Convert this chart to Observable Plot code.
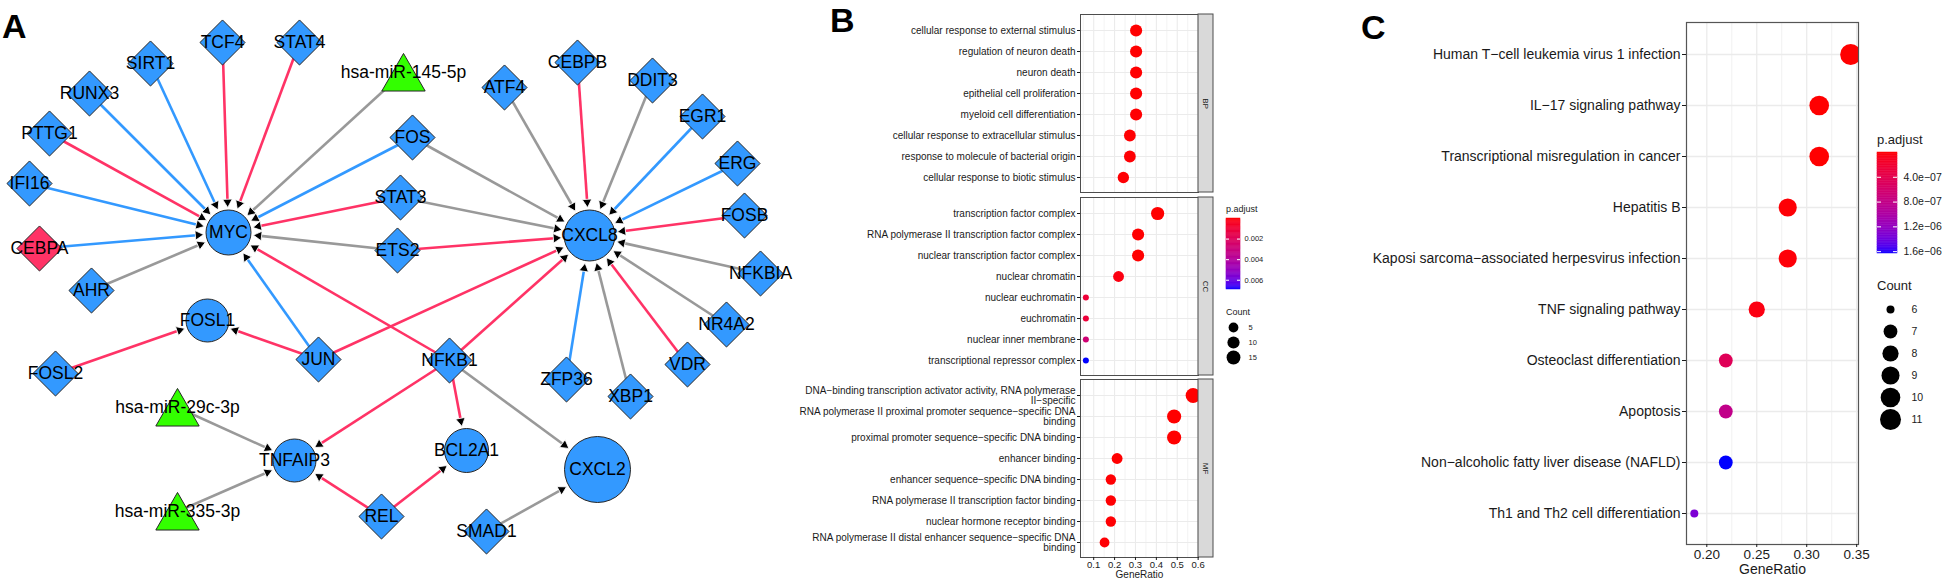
<!DOCTYPE html>
<html><head><meta charset="utf-8">
<script src="https://cdn.jsdelivr.net/npm/d3@7"></script>
<script src="https://cdn.jsdelivr.net/npm/@observablehq/plot@0.6"></script>
<style>
html,body{margin:0;padding:0;background:#fff;}
#root{position:relative;width:1946px;height:583px;overflow:hidden;font-family:'Liberation Sans',Arial,sans-serif;}
.abs{position:absolute;}
.letter{position:absolute;font:bold 34px/1 'Liberation Sans',Arial,sans-serif;color:#000;}
.lt{position:absolute;white-space:nowrap;color:#1a1a1a;font-family:'Liberation Sans',Arial,sans-serif;}
svg{max-width:none!important;}
</style></head><body><div id="root"></div>
<script>
// ---------------- Panel A: regulatory network ----------------
const nodeNames = ["MYC","CXCL8","FOSL1","TNFAIP3","BCL2A1","CXCL2",
  "TCF4","STAT4","SIRT1","RUNX3","PTTG1","IFI16","CEBPA","AHR","FOS","STAT3","ETS2",
  "ATF4","CEBPB","DDIT3","EGR1","ERG","FOSB","NFKBIA","NR4A2","VDR","XBP1","ZFP36",
  "JUN","NFKB1","FOSL2","REL","SMAD1","hsa-miR-145-5p","hsa-miR-29c-3p","hsa-miR-335-3p"];
const nodeX = [228,589,207,294,466,597, 222,299,150,89,49,29,39,91,412,400,397,
  504,577,652,702,737,744,760,726,687,630,566, 318,449,55,381,486, 403,177,177];
const nodeY = [232,235,320,460,450,469, 42,42,63,93,133,183,248,290,137,197,250,
  87,62,80,116,163,215,273,324,364,396,379, 359,360,373,516,531, 72,407,511];
const nodeKind = ["target","target","target","target","target","target",
  "gene","gene","gene","gene","gene","gene","gene-up","gene","gene","gene","gene",
  "gene","gene","gene","gene","gene","gene","gene","gene","gene","gene","gene",
  "gene","gene","gene","gene","gene","miRNA","miRNA","miRNA"];
const edgeSource = ["TCF4","STAT4","SIRT1","RUNX3","hsa-miR-145-5p","PTTG1","IFI16","CEBPA","AHR","FOS","STAT3","ETS2","JUN","NFKB1",
  "FOS","STAT3","ETS2","ATF4","CEBPB","DDIT3","EGR1","ERG","FOSB","NFKBIA","NR4A2","VDR","XBP1","ZFP36","JUN","NFKB1",
  "FOSL2","JUN","NFKB1","NFKB1","NFKB1","hsa-miR-29c-3p","hsa-miR-335-3p","REL","REL","SMAD1"];
const edgeTarget = ["MYC","MYC","MYC","MYC","MYC","MYC","MYC","MYC","MYC","MYC","MYC","MYC","MYC","MYC",
  "CXCL8","CXCL8","CXCL8","CXCL8","CXCL8","CXCL8","CXCL8","CXCL8","CXCL8","CXCL8","CXCL8","CXCL8","CXCL8","CXCL8","CXCL8","CXCL8",
  "FOSL1","FOSL1","TNFAIP3","BCL2A1","CXCL2","TNFAIP3","TNFAIP3","TNFAIP3","BCL2A1","CXCL2"];
const edgeType = ["activation","activation","repression","repression","unknown","activation","repression","repression","unknown","repression","activation","unknown","repression","activation",
  "unknown","unknown","activation","unknown","activation","unknown","repression","repression","activation","unknown","unknown","activation","unknown","repression","activation","activation",
  "activation","activation","activation","activation","unknown","unknown","unknown","activation","activation","unknown"];

// ---------------- Panel B: GO enrichment ----------------
const bpTerms = ["cellular response to external stimulus","regulation of neuron death","neuron death","epithelial cell proliferation","myeloid cell differentiation","cellular response to extracellular stimulus","response to molecule of bacterial origin","cellular response to biotic stimulus"];
const bpRatio = [0.303,0.303,0.303,0.303,0.303,0.273,0.273,0.242];
const bpCount = [10,10,10,10,10,9,9,8];
const bpP = [1.2e-5,1.3e-5,1.5e-5,2e-5,2e-5,3e-5,4e-5,5e-5];

const ccTerms = ["transcription factor complex","RNA polymerase II transcription factor complex","nuclear transcription factor complex","nuclear chromatin","nuclear euchromatin","euchromatin","nuclear inner membrane","transcriptional repressor complex"];
const ccRatio = [0.406,0.3125,0.3125,0.219,0.0625,0.0625,0.0625,0.0625];
const ccCount = [13,10,10,7,2,2,2,2];
const ccP = [2e-9,6e-6,6e-6,2e-4,1.05e-3,1.1e-3,2.8e-3,6.9e-3];

const mfTerms = ["DNA−binding transcription activator activity, RNA polymerase II−specific","RNA polymerase II proximal promoter sequence−specific DNA binding","proximal promoter sequence−specific DNA binding","enhancer binding","enhancer sequence−specific DNA binding","RNA polymerase II transcription factor binding","nuclear hormone receptor binding","RNA polymerase II distal enhancer sequence−specific DNA binding"];
const mfRatio = [0.576,0.485,0.485,0.212,0.182,0.182,0.182,0.152];
const mfCount = [19,16,16,7,6,6,6,5];
const mfP = [1e-12,1e-10,1e-10,1e-5,3e-5,3e-5,3e-5,5e-5];

const bMajor = [0.1,0.2,0.3,0.4,0.5,0.6];
const bMinor = [0.05,0.15,0.25,0.35,0.45,0.55];
const bColorTicks = [0.002,0.004,0.006];
const bCountBreaks = [5,10,15];

// ---------------- Panel C: KEGG enrichment ----------------
const keggTerms = ["Human T−cell leukemia virus 1 infection","IL−17 signaling pathway","Transcriptional misregulation in cancer","Hepatitis B","Kaposi sarcoma−associated herpesvirus infection","TNF signaling pathway","Osteoclast differentiation","Apoptosis","Non−alcoholic fatty liver disease (NAFLD)","Th1 and Th2 cell differentiation"];
const keggRatio = [0.344,0.3125,0.3125,0.281,0.281,0.25,0.219,0.219,0.219,0.1875];
const keggCount = [11,10,10,9,9,8,7,7,7,6];
const keggP = [1e-10,2e-9,3e-9,1.5e-8,2e-8,5e-8,4.6e-7,8.2e-7,1.63e-6,1.34e-6];
const cMajor = [0.20,0.25,0.30,0.35];
const cMinor = [0.225,0.275,0.325];
const cColorTicks = [4e-7,8e-7,1.2e-6,1.6e-6];
const cCountBreaks = [6,7,8,9,10,11];

// ================= rendering =================
const FONT = "'Liberation Sans', Arial, sans-serif";
const root = document.getElementById("root");
function place(node, left, top) {
  const d = document.createElement("div");
  d.className = "abs"; d.style.left = left + "px"; d.style.top = top + "px";
  d.appendChild(node); root.appendChild(d); return d;
}
function label(text, cls, left, top, size) {
  const d = document.createElement("div");
  d.className = cls; d.textContent = text;
  d.style.left = left + "px"; d.style.top = top + "px";
  if (size) { d.style.fontSize = size + "px"; d.style.lineHeight = (size * 1.15) + "px"; }
  root.appendChild(d);
}
const baseStyle = {fontFamily: FONT, background: "transparent", overflow: "visible", color: "#1a1a1a"};

// ---- Panel A
const NODE = new Map(nodeNames.map((n, i) => [n, {name: n, x: nodeX[i], y: nodeY[i], kind: nodeKind[i]}]));
const nodes = [...NODE.values()];
const targetRadius = {MYC: 22.5, CXCL8: 25.5, FOSL1: 21.5, TNFAIP3: 21.5, BCL2A1: 22, CXCL2: 33};
const HEAD = 5.5, GAP = 2.5;
const edgeGeo = edgeSource.map((s, i) => {
  const a = NODE.get(s), b = NODE.get(edgeTarget[i]);
  const dx = b.x - a.x, dy = b.y - a.y, L = Math.hypot(dx, dy), ux = dx / L, uy = dy / L;
  const R = (targetRadius[b.name] || 22) + GAP;
  return {type: edgeType[i], x1: a.x, y1: a.y,
    x2: b.x - ux * (R + 1.3 * HEAD), y2: b.y - uy * (R + 1.3 * HEAD),
    hx: b.x - ux * (R + HEAD), hy: b.y - uy * (R + HEAD),
    angle: Math.atan2(ux, -uy) * 180 / Math.PI};
});
const plotA = Plot.plot({
  width: 800, height: 583, margin: 0,
  x: {domain: [0, 800], range: [0, 800], axis: null},
  y: {domain: [0, 583], range: [0, 583], axis: null},
  r: {type: "identity"},
  color: {domain: ["activation","repression","unknown","target","gene","gene-up","miRNA"],
          range: ["#FF3366","#3399FF","#999999","#3399FF","#3399FF","#FF3366","#33FF00"]},
  style: baseStyle,
  marks: [
    Plot.link(edgeGeo, {x1: "x1", y1: "y1", x2: "x2", y2: "y2", stroke: "type", strokeWidth: 2.6}),
    Plot.dot(edgeGeo, {x: "hx", y: "hy", r: 4.55, symbol: "triangle2", rotate: "angle", fill: "black", stroke: "white", strokeWidth: 0.8}),
    Plot.dot(nodes.filter(d => d.kind === "target"), {x: "x", y: "y", r: d => targetRadius[d.name], fill: "kind", stroke: "#262626", strokeWidth: 1}),
    Plot.dot(nodes.filter(d => d.kind === "gene" || d.kind === "gene-up"), {x: "x", y: "y", r: 20.3, symbol: "diamond2", fill: "kind", stroke: "#262626", strokeWidth: 1}),
    Plot.dot(nodes.filter(d => d.kind === "miRNA"), {x: "x", y: "y", r: 20.7, dy: 6, symbol: "triangle2", fill: "kind", stroke: "#262626", strokeWidth: 1}),
    Plot.text(nodes, {x: "x", y: "y", text: "name", fontSize: 17.5, fill: "#000"})
  ]
});
place(plotA, 0, 0);

// ---- Panel B
function wrap(s, w = 60) {
  const words = s.split(" "), lines = []; let cur = "";
  for (const wd of words) {
    if (cur && (cur + " " + wd).length > w) { lines.push(cur); cur = wd; }
    else cur = cur ? cur + " " + wd : wd;
  }
  lines.push(cur); return lines.join("\n");
}
const bRatios = [...bpRatio, ...ccRatio, ...mfRatio];
const bCounts = [...bpCount, ...ccCount, ...mfCount];
const bPs = [...bpP, ...ccP, ...mfP];
const bLo = d3.min(bRatios), bHi = d3.max(bRatios), bPad = 0.05 * (bHi - bLo);
const bDom = [bLo - bPad, bHi + bPad];
const bCmin = d3.min(bCounts), bCmax = d3.max(bCounts);
const bR = {type: "sqrt", domain: [0, bCmax - bCmin], range: [3, 7.5]};
const bPmin = d3.min(bPs), bPmax = d3.max(bPs);
const bColor = {type: "linear", domain: [bPmin, bPmax], range: ["red", "blue"], interpolate: "lab"};

function bFacet(terms, ratio, count, p, name, last) {
  const data = terms.map((t, i) => ({term: t, ratio: ratio[i], count: count[i], p: p[i]}));
  const W = 434, ML = 300, MR = 16, PW = W - ML - MR;
  const stripW = 15 / PW * (bDom[1] - bDom[0]);
  return Plot.plot({
    width: W, height: last ? 206 : 182, marginLeft: ML, marginRight: MR, marginTop: 2, marginBottom: last ? 26 : 2,
    x: {domain: bDom, axis: null},
    y: {type: "point", domain: terms, padding: 0.6, axis: null},
    r: bR, color: bColor, style: baseStyle,
    marks: [
      Plot.gridX({ticks: bMinor, stroke: "#ebebeb", strokeOpacity: 1, strokeWidth: 0.6}),
      Plot.gridX({ticks: bMajor, stroke: "#ebebeb", strokeOpacity: 1, strokeWidth: 1.1}),
      Plot.gridY({stroke: "#ebebeb", strokeOpacity: 1, strokeWidth: 1.1}),
      Plot.dot(data, {x: "ratio", y: "term", r: d => d.count - bCmin, fill: "p", clip: true}),
      Plot.frame({stroke: "#4d4d4d", strokeWidth: 1}),
      Plot.rect([name], {x1: () => bDom[1], x2: () => bDom[1] + stripW, fill: "#d9d9d9", stroke: "#4d4d4d", strokeWidth: 1}),
      Plot.text([name], {x: () => bDom[1] + stripW / 2, text: d => d, rotate: 90, fontSize: 8, fill: "#1a1a1a"}),
      Plot.axisY({tickSize: 3, tickPadding: 2, fontSize: 10, color: "#1a1a1a", tickFormat: d => wrap(d), lineHeight: 1.05, label: null}),
      ...(last ? [
        Plot.axisX({ticks: bMajor, tickSize: 3, tickPadding: 0.5, fontSize: 9.5, color: "#1a1a1a", tickFormat: d3.format(".1f"), label: null}),
        Plot.text(["GeneRatio"], {frameAnchor: "bottom", dy: 20, fontSize: 10, fill: "#1a1a1a"})
      ] : [])
    ]
  });
}
place(bFacet(bpTerms, bpRatio, bpCount, bpP, "BP", false), 780, 12);
place(bFacet(ccTerms, ccRatio, ccCount, ccP, "CC", false), 780, 195);
place(bFacet(mfTerms, mfRatio, mfCount, mfP, "MF", true), 780, 377);

// B legends
const bStops = d3.range(61).map(i => bPmin + (bPmax - bPmin) * i / 60);
place(Plot.plot({
  width: 54, height: 79, marginLeft: 0, marginRight: 40, marginTop: 4, marginBottom: 4,
  y: {domain: [bPmin, bPmax], reverse: true, axis: null}, color: bColor, style: baseStyle,
  marks: [
    Plot.rect(d3.pairs(bStops), {y1: d => d[0], y2: d => d[1], fill: d => (d[0] + d[1]) / 2, stroke: d => (d[0] + d[1]) / 2, strokeWidth: 0.5}),
    Plot.tickY(bColorTicks, {y: d => d, stroke: "white", insetRight: 11}),
    Plot.tickY(bColorTicks, {y: d => d, stroke: "white", insetLeft: 11}),
    Plot.axisY({anchor: "right", ticks: bColorTicks, tickSize: 0, tickPadding: 4, fontSize: 7.5, color: "#1a1a1a", tickFormat: d3.format(".3f"), label: null})
  ]
}), 1226, 214);
place(Plot.plot({
  width: 50, height: 46.5, marginLeft: 0, marginRight: 36, marginTop: 0, marginBottom: 0,
  y: {type: "point", domain: bCountBreaks, padding: 0.5, axis: null}, r: bR, style: baseStyle,
  marks: [
    Plot.dot(bCountBreaks, {y: d => d, r: d => d - bCmin, fill: "black"}),
    Plot.axisY({anchor: "right", tickSize: 0, tickPadding: 8, fontSize: 7.5, color: "#1a1a1a", label: null})
  ]
}), 1226, 319);
label("p.adjust", "lt", 1226, 203.5, 9);
label("Count", "lt", 1226, 306.5, 9);

// ---- Panel C
const cLo = d3.min(keggRatio), cHi = d3.max(keggRatio), cPad = 0.05 * (cHi - cLo);
const cDom = [cLo - cPad, cHi + cPad];
const cCmin = d3.min(keggCount), cCmax = d3.max(keggCount);
const cR = {type: "sqrt", domain: [0, cCmax - cCmin], range: [4, 10.5]};
const cPmin = d3.min(keggP), cPmax = d3.max(keggP);
const cColor = {type: "linear", domain: [cPmin, cPmax], range: ["red", "blue"], interpolate: "lab"};
const keggData = keggTerms.map((t, i) => ({term: t, ratio: keggRatio[i], count: keggCount[i], p: keggP[i]}));
place(Plot.plot({
  width: 568, height: 583, marginLeft: 386, marginRight: 10, marginTop: 22, marginBottom: 39,
  x: {domain: cDom, axis: null},
  y: {type: "point", domain: keggTerms, padding: 0.6, axis: null},
  r: cR, color: cColor, style: baseStyle,
  marks: [
    Plot.gridX({ticks: cMinor, stroke: "#ebebeb", strokeOpacity: 1, strokeWidth: 0.7}),
    Plot.gridX({ticks: cMajor, stroke: "#ebebeb", strokeOpacity: 1, strokeWidth: 1.3}),
    Plot.gridY({stroke: "#ebebeb", strokeOpacity: 1, strokeWidth: 1.3}),
    Plot.dot(keggData, {x: "ratio", y: "term", r: d => d.count - cCmin, fill: "p", clip: true}),
    Plot.frame({stroke: "#555", strokeWidth: 1.2}),
    Plot.axisY({tickSize: 4, tickPadding: 2, fontSize: 14, color: "#1a1a1a", label: null}),
    Plot.axisX({ticks: cMajor, tickSize: 3, tickPadding: 2, fontSize: 13.5, color: "#1a1a1a", tickFormat: d3.format(".2f"), label: null}),
    Plot.text(["GeneRatio"], {frameAnchor: "bottom", dy: 29, fontSize: 14, fill: "#1a1a1a"})
  ]
}), 1300, 0);

// C legends
const cStops = d3.range(61).map(i => cPmin + (cPmax - cPmin) * i / 60);
const expFmt = d => d.toExponential(1).replace(/e-(\d)$/, "e−0$1");
place(Plot.plot({
  width: 80, height: 113, marginLeft: 0, marginRight: 60, marginTop: 6, marginBottom: 6,
  y: {domain: [cPmin, cPmax], reverse: true, axis: null}, color: cColor, style: baseStyle,
  marks: [
    Plot.rect(d3.pairs(cStops), {y1: d => d[0], y2: d => d[1], fill: d => (d[0] + d[1]) / 2, stroke: d => (d[0] + d[1]) / 2, strokeWidth: 0.5}),
    Plot.tickY(cColorTicks, {y: d => d, stroke: "white", insetRight: 16}),
    Plot.tickY(cColorTicks, {y: d => d, stroke: "white", insetLeft: 16}),
    Plot.axisY({anchor: "right", ticks: cColorTicks, tickSize: 0, tickPadding: 6, fontSize: 10.5, color: "#1a1a1a", tickFormat: expFmt, label: null})
  ]
}), 1877, 146);
place(Plot.plot({
  width: 60, height: 134.4, marginLeft: 0, marginRight: 36, marginTop: 0, marginBottom: 0,
  y: {type: "point", domain: cCountBreaks, padding: 0.5, axis: null}, r: cR, style: baseStyle,
  marks: [
    Plot.dot(cCountBreaks, {y: d => d, r: d => d - cCmin, fill: "black"}),
    Plot.axisY({anchor: "right", tickSize: 0, tickPadding: 9, fontSize: 10.5, color: "#1a1a1a", label: null})
  ]
}), 1878, 297);
label("p.adjust", "lt", 1877, 132.5, 13);
label("Count", "lt", 1877, 278.5, 13);

// Panel letters
label("A", "letter", 2, 9);
label("B", "letter", 830, 3);
label("C", "letter", 1361, 10);
</script></body></html>
